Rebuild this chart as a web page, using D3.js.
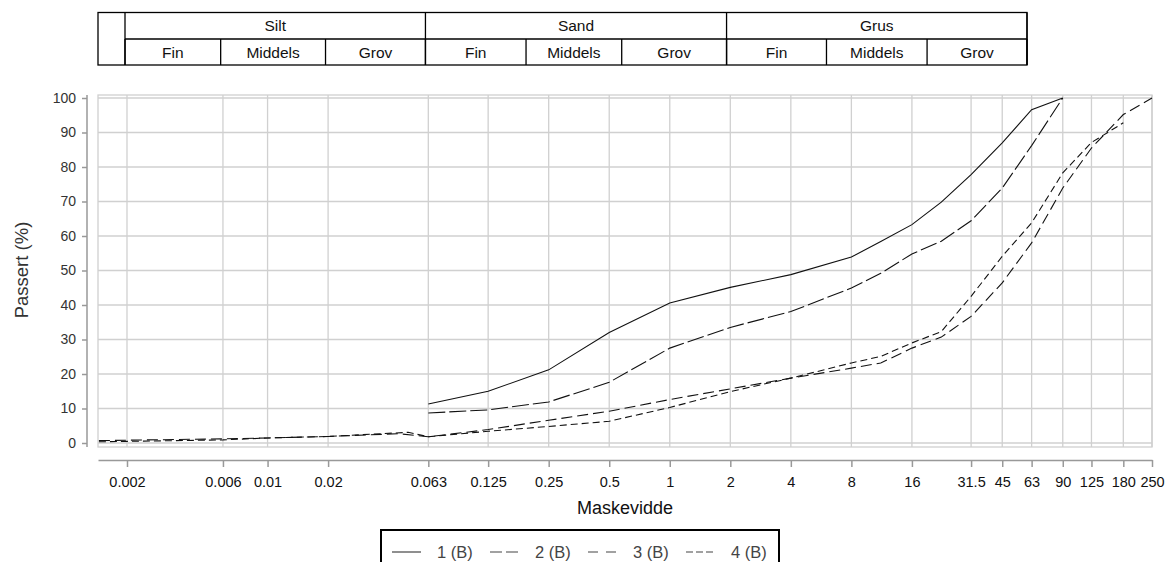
<!DOCTYPE html>
<html>
<head>
<meta charset="utf-8">
<script src="https://cdn.jsdelivr.net/npm/d3@7"></script>
<style>
  body { margin: 0; background: #fff; }
  text { font-family: "Liberation Sans", Arial, sans-serif; }
</style>
</head>
<body>
<div id="chart"></div>
<script>
var w = 1166, h = 562;

// sieve sizes (mm) and passing (%)
var sizes1 = [0.063, 0.125, 0.25, 0.5, 1, 2, 4, 8, 11.2, 16, 22.4, 31.5, 45, 63, 90];
var pass1  = [11.3, 15.0, 21.2, 32.0, 40.6, 45.1, 48.8, 53.9, 58.4, 63.3, 69.8, 77.8, 87.0, 96.6, 100];

var sizes2 = [0.063, 0.125, 0.25, 0.5, 1, 2, 4, 8, 11.2, 16, 22.4, 31.5, 45, 63, 90];
var pass2  = [8.7, 9.6, 11.9, 17.6, 27.5, 33.5, 38.1, 44.9, 49.2, 54.8, 58.5, 64.4, 73.9, 86.2, 100];

var sizes3 = [0.00145, 0.006, 0.01, 0.02, 0.045, 0.063, 0.125, 0.25, 0.5, 1, 2, 4, 8, 11.2, 16, 22.4, 31.5, 45, 63, 90, 125, 180, 250];
var pass3  = [0.7, 1.2, 1.45, 1.9, 2.7, 1.8, 3.9, 6.6, 9.2, 12.6, 15.7, 18.8, 21.7, 23.2, 27.5, 30.7, 36.7, 46.4, 58.0, 73.9, 85.5, 95.2, 100];

var sizes4 = [0.00145, 0.006, 0.01, 0.02, 0.05, 0.063, 0.125, 0.25, 0.5, 1, 2, 4, 8, 11.2, 16, 22.4, 31.5, 45, 63, 90, 125, 180];
var pass4  = [0.35, 0.9, 1.45, 1.9, 3.1, 1.8, 3.4, 4.8, 6.3, 10.3, 14.9, 18.8, 23.2, 25.1, 29.0, 32.3, 42.5, 54.1, 63.8, 78.3, 87.1, 92.8];

var seriesNames = ["1 (B)", "2 (B)", "3 (B)", "4 (B)"];
var seriesDash = [null, "17,4", "11,5", "7,4"];
var legendDash = [null, "12,4", "10,8", "7,3"];

var xTicks = [0.002, 0.006, 0.01, 0.02, 0.063, 0.125, 0.25, 0.5, 1, 2, 4, 8, 16, 31.5, 45, 63, 90, 125, 180, 250];
var yTicks = [0, 10, 20, 30, 40, 50, 60, 70, 80, 90, 100];

// fraction table
var groups = ["Silt", "Sand", "Grus"];
var groupBounds = [0.002, 0.063, 2, 63];
var subNames = ["Fin", "Middels", "Grov", "Fin", "Middels", "Grov", "Fin", "Middels", "Grov"];
var subBounds = [0.002, 0.006, 0.02, 0.063, 0.2, 0.6, 2, 6.3, 20, 63];

var series = [
  {sizes: sizes1, pass: pass1},
  {sizes: sizes2, pass: pass2},
  {sizes: sizes3, pass: pass3},
  {sizes: sizes4, pass: pass4}
];

var pLeft = 98, pRight = 1152, pTop = 95, pBottom = 447;

var x = d3.scaleLog().domain([0.001435, 250]).range([pLeft, pRight]);
var y = d3.scaleLinear().domain([0, 100]).range([443, 98]);
var xt = d3.scaleLog().domain([0.002, 63]).range([125, 1027]);

var svg = d3.select("#chart").append("svg")
  .attr("width", w)
  .attr("height", h);

// grid
var grid = svg.append("g").attr("stroke", "#d0d0d0").attr("stroke-width", 1.3);
grid.selectAll(".gy").data(yTicks).enter().append("line")
  .attr("x1", pLeft).attr("x2", pRight)
  .attr("y1", function(d) { return y(d); }).attr("y2", function(d) { return y(d); });
grid.selectAll(".gx").data(xTicks).enter().append("line")
  .attr("x1", function(d) { return x(d); }).attr("x2", function(d) { return x(d); })
  .attr("y1", pTop).attr("y2", pBottom);
grid.append("rect").attr("x", pLeft).attr("y", pTop)
  .attr("width", pRight - pLeft).attr("height", pBottom - pTop)
  .attr("fill", "none");

// header table
var tbl = svg.append("g").attr("fill", "none").attr("stroke", "#000").attr("stroke-width", 1.3);
var t0 = 12.5, t1 = 39, t2 = 65;
tbl.append("rect").attr("x", pLeft).attr("y", t0).attr("width", xt(63) - pLeft).attr("height", t2 - t0);
tbl.append("line").attr("x1", xt(0.002)).attr("x2", xt(63)).attr("y1", t1).attr("y2", t1);
tbl.selectAll(".gb").data(groupBounds).enter().append("line")
  .attr("x1", function(d) { return xt(d); }).attr("x2", function(d) { return xt(d); })
  .attr("y1", t0).attr("y2", t2);
tbl.selectAll(".sb").data(subBounds).enter().append("line")
  .attr("x1", function(d) { return xt(d); }).attr("x2", function(d) { return xt(d); })
  .attr("y1", t1).attr("y2", t2);

svg.selectAll(".gt").data(groups).enter().append("text")
  .attr("x", function(d, i) { return (xt(groupBounds[i]) + xt(groupBounds[i + 1])) / 2; })
  .attr("y", (t0 + t1) / 2 + 5.5)
  .attr("text-anchor", "middle")
  .style("font-size", "15.5px")
  .attr("fill", "#111")
  .text(function(d) { return d; });

svg.selectAll(".st").data(subNames).enter().append("text")
  .attr("x", function(d, i) { return (xt(subBounds[i]) + xt(subBounds[i + 1])) / 2; })
  .attr("y", (t1 + t2) / 2 + 5.5)
  .attr("text-anchor", "middle")
  .style("font-size", "15.5px")
  .attr("fill", "#111")
  .text(function(d) { return d; });

// axes
var yAxis = svg.append("g")
  .attr("transform", "translate(87,0)")
  .call(d3.axisLeft(y).tickValues(yTicks).tickSize(5).tickPadding(6));
yAxis.select(".domain").remove();
yAxis.append("line").attr("x1", 0).attr("x2", 0).attr("y1", pTop).attr("y2", pBottom);

var xAxis = svg.append("g")
  .attr("transform", "translate(0,460)")
  .call(d3.axisBottom(x).tickValues(xTicks).tickFormat(function(d) { return String(d); })
    .tickSize(7).tickSizeOuter(0).tickPadding(10));

yAxis.selectAll("line").attr("stroke", "#999").attr("stroke-width", 1.5);
xAxis.selectAll("line, path").attr("stroke", "#999").attr("stroke-width", 1.5);
yAxis.selectAll(".tick text").style("font-size", "14px").attr("fill", "#333");
xAxis.selectAll(".tick text").style("font-size", "14.5px").attr("fill", "#111");
svg.selectAll(".tick text").style("font-family", "Liberation Sans, Arial, sans-serif");

svg.append("text")
  .attr("x", 625).attr("y", 514)
  .attr("text-anchor", "middle")
  .style("font-size", "18px")
  .attr("fill", "#111")
  .text("Maskevidde");

svg.append("text")
  .attr("transform", "translate(28,270) rotate(-90)")
  .attr("text-anchor", "middle")
  .style("font-size", "18.5px")
  .attr("fill", "#333")
  .text("Passert (%)");

// curves
var line = d3.line()
  .x(function(d) { return x(d[0]); })
  .y(function(d) { return y(d[1]); });

svg.selectAll(".curve").data(series).enter().append("path")
  .attr("d", function(s) { return line(d3.zip(s.sizes, s.pass)); })
  .attr("fill", "none")
  .attr("stroke", "#111")
  .attr("stroke-width", 1.1)
  .attr("stroke-dasharray", function(s, i) { return seriesDash[i]; });

// legend
var lg = svg.append("g");
lg.append("rect").attr("x", 381).attr("y", 530).attr("width", 398).attr("height", 50)
  .attr("fill", "#fff").attr("stroke", "#000").attr("stroke-width", 2);
var items = lg.selectAll(".li").data(seriesNames).enter().append("g")
  .attr("transform", function(d, i) { return "translate(" + (392 + i * 98) + ",552)"; });
items.append("line").attr("x1", 0).attr("x2", 29).attr("y1", 0).attr("y2", 0)
  .attr("stroke", "#444").attr("stroke-width", 1.2)
  .attr("stroke-dasharray", function(d, i) { return legendDash[i]; });
items.append("text").attr("x", 45).attr("y", 6)
  .style("font-size", "16.5px").attr("fill", "#444")
  .text(function(d) { return d; });
</script>
</body>
</html>
